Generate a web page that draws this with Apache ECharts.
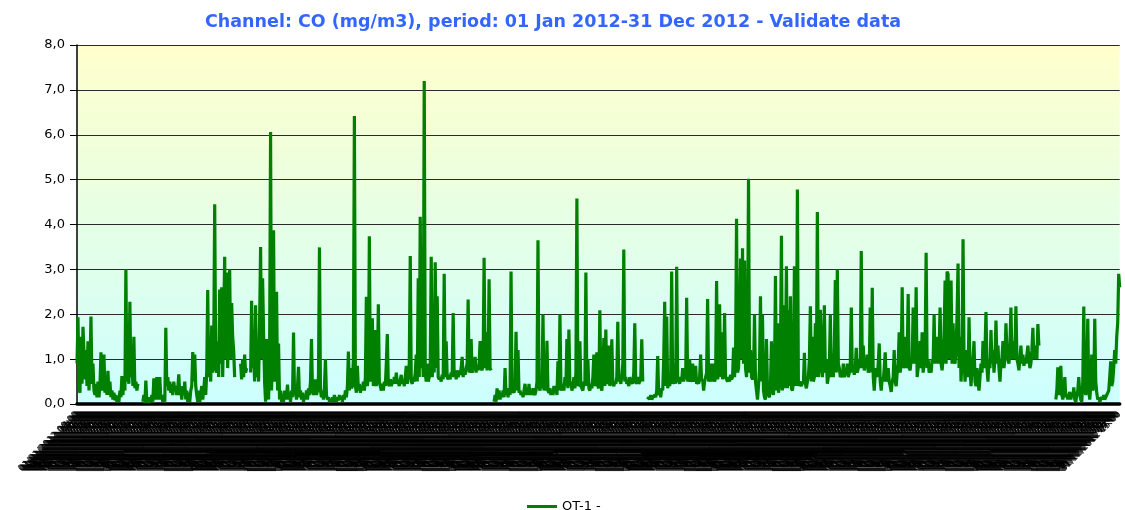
<!DOCTYPE html>
<html>
<head>
<meta charset="utf-8">
<script src="https://cdn.jsdelivr.net/npm/echarts@6/dist/echarts.min.js"></script>
<style>
html,body{margin:0;padding:0;background:#fff;}
#chart{width:1125px;height:510px;}
</style>
</head>
<body>
<div id="chart"></div>
<script>
// Title / legend texts
const titleText = 'Channel: CO (mg/m3), period: 01 Jan 2012-31 Dec 2012 - Validate data';
const seriesName = 'OT-1 -';

// Y axis tick values
const yTicks = [0, 1, 2, 3, 4, 5, 6, 7, 8];

// CO values (mg/m3), samples read evenly across the year; null = no data
const coValues = [
  0.9, 1.93, 0.35,
  0.25, 1.5, 0.45, 1.72, 1.74, 0.55, 1.2, 0.4, 1.4, 0.3,
  0.8, 1.95, 0.45, 0.9, 0.3, 0.2, 0.45, 0.15, 0.5, 0.15,
  0.4, 1.15, 0.3, 0.5, 1.1, 0.25, 0.6, 0.2, 0.74, 0.2,
  0.5, 0.15, 0.3, 0.1, 0.25, 0.08, 0.2, 0.05, 0.15, 0.05,
  0.3, 0.15, 0.62, 0.2, 0.55, 0.3, 3.0, 0.5, 0.8, 0.45,
  2.28, 0.6, 1.0, 0.4, 1.5, 0.35, 0.5, 0.3, 0.45, null,
  null, null, null, 0.05, 0.2, 0.02, 0.52, 0.05, 0.1, 0.02,
  0.15, 0.05, 0.2, 0.05, 0.57, 0.1, 0.25, 0.6, 0.1, 0.3,
  0.6, 0.1, 0.2, 0.05, 0.15, 0.05, 1.7, 0.4, 0.6, 0.3,
  0.5, 0.25, 0.45, 0.2, 0.5, 0.3, 0.4, 0.2, 0.35, 0.66,
  0.2, 0.35, 0.1, 0.4, 0.2, 0.5, 0.1, 0.3, 0.05, 0.25,
  0.05, 0.3, 0.4, 1.16, 0.5, 1.1, 0.4, 0.2, 0.05, 0.3,
  0.05, 0.2, 0.4, 0.1, 0.3, 0.6, 0.2, 0.7, 2.54, 0.6,
  1.0, 0.5, 1.75, 0.7, 1.2, 4.45, 0.8, 0.7, 1.4, 0.6,
  2.55, 0.9, 2.6, 0.6, 1.8, 3.28, 1.0, 2.93, 0.8, 2.1,
  3.0, 1.0, 2.25, 1.5, 1.2, 0.6, null, null, null, null,
  null, 0.9, 0.55, 1.0, 0.6, 1.1, 0.7, 0.8, null, null,
  null, 0.7, 2.3, 0.8, 1.2, 0.5, 2.2, 0.6, 1.0, 0.5,
  1.8, 3.5, 1.0, 2.8, 1.6, 0.5, 0.05, 1.45, 0.3, 0.1,
  1.0, 6.06, 0.3, 1.5, 3.87, 0.5, 1.0, 2.5, 0.3, 1.35,
  0.1, 0.3, 0.05, 0.2, 0.05, 0.3, 0.1, 0.2, 0.43, 0.1,
  0.25, 0.05, 0.3, 0.15, 1.59, 0.2, 0.3, 0.1, 0.4, 0.83,
  0.15, 0.3, 0.1, 0.25, 0.05, 0.2, 0.1, 0.3, 0.1, 0.35,
  0.2, 0.5, 1.45, 0.3, 0.2, 0.3, 0.55, 0.2, 0.3, 0.6,
  3.49, 0.3, 0.15, 0.3, 0.1, 0.4, 1.0, 0.2, 0.1, 0.15,
  0.05, 0.1, 0.05, 0.15, 0.05, 0.2, 0.1, 0.05, 0.15, 0.08,
  0.2, 0.1, 0.15, 0.05, 0.2, 0.1, 0.3, 0.15, 0.4, 1.17,
  0.3, 0.8, 0.35, 0.4, 1.0, 6.42, 0.4, 0.25, 0.85, 0.3,
  0.45, 0.25, 0.4, 0.3, 0.5, 0.3, 0.6, 2.39, 0.4, 0.6,
  3.74, 0.5, 0.9, 1.91, 0.4, 0.6, 1.65, 0.4, 0.7, 2.22,
  0.5, 0.4, 0.3, 0.45, 0.3, 0.5, 0.4, 0.9, 1.56, 0.45,
  0.4, 0.55, 0.4, 0.5, 0.45, 0.6, 0.45, 0.7, 0.45, 0.5,
  0.4, 0.55, 0.65, 0.45, 0.5, 0.4, 0.6, 0.85, 0.45, 0.6,
  0.9, 3.3, 0.5, 0.45, 0.6, 0.5, 0.7, 1.1, 0.5, 2.8,
  0.6, 4.17, 0.8, 1.5, 0.6, 7.2, 0.7, 0.5, 0.9, 0.5,
  0.6, 0.8, 3.28, 0.6, 1.0, 0.7, 3.16, 0.8, 2.4, 0.6,
  0.55, 0.6, 0.5, 0.65, 0.55, 2.9, 0.6, 1.4, 0.6, 0.55,
  0.65, 0.55, 0.7, 0.6, 2.03, 0.6, 0.7, 0.55, 0.75, 0.6,
  0.7, 0.65, 0.8, 1.05, 0.6, 0.75, 0.65, 0.8, 0.9, 2.33,
  0.7, 0.8, 1.45, 0.7, 0.8, 0.75, 1.05, 0.7, 0.85, 0.75,
  0.9, 1.4, 0.8, 0.75, 0.9, 3.26, 0.8, 1.6, 0.75, 0.9,
  2.78, 0.8, 0.75, null, null, 0.05, 0.2, 0.05, 0.35, 0.1,
  0.3, 0.1, 0.2, 0.15, 0.3, 0.15, 0.8, 0.2, 0.35, 0.15,
  0.3, 0.2, 2.95, 0.25, 0.3, 0.25, 0.4, 1.61, 0.3, 1.2,
  0.25, 0.3, 0.2, 0.25, 0.15, 0.3, 0.45, 0.2, 0.3, 0.2,
  0.45, 0.2, 0.3, 0.2, 0.35, 0.25, 0.2, 0.3, 0.5, 3.65,
  0.4, 0.3, 0.5, 0.35, 2.0, 0.3, 0.5, 0.3, 1.41, 0.3,
  0.25, 0.35, 0.2, 0.3, 0.2, 0.4, 0.25, 0.3, 0.2, 0.95,
  0.3, 2.0, 0.4, 0.3, 0.45, 0.3, 0.6, 0.4, 1.45, 0.35,
  1.66, 0.4, 0.5, 0.3, 0.4, 0.6, 0.35, 0.7, 4.58, 0.4,
  0.45, 1.4, 0.4, 0.35, 0.3, 0.5, 0.4, 2.93, 0.4, 1.0,
  0.35, 0.3, 0.45, 0.35, 0.6, 1.1, 0.4, 0.5, 1.15, 0.4,
  0.35, 2.09, 0.4, 0.3, 0.6, 1.47, 0.4, 1.66, 0.45, 0.5,
  1.3, 0.4, 0.6, 1.44, 0.45, 0.4, 0.5, 0.45, 0.6, 1.83,
  0.5, 0.55, 0.45, 0.6, 0.9, 3.44, 0.5, 0.6, 0.45, 0.5,
  0.4, 0.6, 0.45, 0.5, 0.45, 0.7, 1.8, 0.5, 0.45, 0.6,
  0.45, 0.5, 0.6, 1.44, 0.5, null, null, null, null, 0.1,
  0.15, 0.1, 0.2, 0.1, 0.15, 0.12, 0.2, 0.15, 0.3, 1.07,
  0.2, 0.3, 0.15, 0.35, 0.3, 1.0, 2.28, 0.4, 1.95, 0.35,
  0.5, 0.4, 0.6, 2.95, 0.45, 0.5, 0.9, 0.45, 3.06, 0.5,
  0.55, 0.45, 0.6, 0.5, 0.8, 0.5, 0.65, 0.55, 2.37, 0.5,
  0.6, 1.0, 0.5, 0.55, 0.9, 0.5, 0.6, 0.85, 0.45, 0.5,
  0.45, 0.6, 1.1, 0.5, 0.55, 0.3, 0.5, 0.6, 0.7, 2.34,
  0.5, 0.6, 0.9, 0.5, 0.65, 0.9, 0.5, 0.6, 2.74, 0.55,
  0.7, 2.22, 0.6, 1.6, 0.55, 0.7, 2.03, 0.6, 0.55, 0.5,
  0.6, 0.5, 0.65, 0.55, 0.6, 1.26, 0.6, 1.0, 4.13, 0.7,
  0.8, 1.6, 3.24, 1.0, 3.47, 0.9, 3.2, 0.8, 0.6, 1.2,
  5.02, 0.7, 1.2, 0.6, 0.55, 0.65, 2.0, 0.5, 0.3, 0.1,
  0.4, 0.8, 2.4, 0.5, 2.0, 0.3, 0.15, 0.1, 1.45, 0.3,
  0.2, 0.15, 0.4, 1.4, 0.3, 0.2, 0.6, 2.85, 0.3, 1.8,
  0.25, 0.4, 1.2, 3.75, 0.3, 2.2, 0.35, 1.0, 3.07, 0.35,
  2.1, 0.4, 2.4, 0.35, 0.3, 0.5, 3.07, 0.4, 1.0, 4.78,
  0.4, 0.5, 0.45, 0.4, 0.5, 0.45, 1.14, 0.45, 0.35, 0.5,
  0.6, 1.0, 2.18, 0.5, 1.5, 0.5, 0.6, 1.8, 0.6, 4.28,
  0.6, 0.8, 2.1, 1.2, 0.6, 0.9, 2.2, 0.7, 1.0, 0.45,
  0.6, 0.8, 2.0, 0.6, 1.1, 0.6, 1.2, 2.76, 0.7, 3.0,
  0.9, 0.8, 0.6, 0.65, 0.6, 0.9, 0.6, 0.7, 0.65, 0.9,
  0.6, 0.7, 0.9, 2.15, 0.7, 0.8, 0.65, 0.8, 1.25, 0.7,
  0.8, 1.0, 0.8, 3.41, 0.8, 1.3, 0.75, 0.85, 0.8, 1.1,
  0.7, 0.8, 2.15, 0.7, 2.59, 0.6, 0.3, 0.7, 0.8, 0.6,
  0.9, 1.35, 0.5, 0.3, 0.6, 0.5, 0.8, 1.15, 0.5, 0.6,
  0.8, 0.5, 0.4, 0.27, 0.5, 0.6, 1.2, 0.5, 0.4, 0.7,
  0.9, 1.6, 0.7, 0.9, 2.6, 0.8, 0.9, 1.5, 0.8, 1.0,
  2.45, 0.8, 0.75, 1.0, 0.9, 2.15, 0.9, 1.2, 2.6, 0.6,
  0.8, 1.0, 1.4, 0.8, 1.6, 0.7, 0.9, 1.2, 3.37, 0.8,
  1.0, 0.7, 0.8, 0.7, 1.0, 0.9, 2.0, 0.9, 1.1, 1.5,
  0.9, 1.2, 2.15, 0.9, 0.75, 1.0, 1.5, 2.75, 0.9, 2.95,
  2.9, 1.0, 1.2, 2.75, 0.9, 1.8, 1.0, 0.9, 1.2, 2.0,
  3.13, 0.8, 1.5, 0.5, 1.0, 3.67, 1.0, 0.5, 0.8, 1.2,
  0.6, 1.93, 0.8, 0.4, 0.8, 1.0, 1.4, 0.5, 0.4, 0.8,
  0.5, 0.3, 0.6, 0.9, 0.7, 1.4, 0.8, 1.2, 2.05, 0.8,
  0.5, 1.0, 0.8, 1.65, 0.9, 1.2, 0.7, 1.0, 1.86, 0.9,
  1.3, 0.8, 0.5, 0.9, 1.0, 1.4, 0.8, 1.0, 1.8, 1.2,
  1.0, 0.9, 1.3, 2.15, 1.0, 1.4, 1.0, 1.2, 2.18, 1.0,
  0.9, 0.75, 1.0, 1.3, 0.9, 1.1, 0.85, 1.0, 0.9, 1.1,
  1.3, 1.0, 0.8, 0.9, 1.2, 1.7, 1.0, 1.2, 1.3, 1.0,
  1.78, 1.3, null, null, null, null, null, null, null, null,
  null, null, null, null, null, null, null, null, 0.1, 0.3,
  0.82, 0.2, 0.4, 0.85, 0.2, 0.1, 0.3, 0.6, 0.15, 0.2,
  0.1, 0.2, 0.27, 0.1, 0.2, 0.15, 0.37, 0.1, 0.05, 0.2,
  0.3, 0.6, 0.2, 0.1, 0.05, 0.5, 2.17, 0.3, 0.2, 0.5,
  1.9, 0.3, 0.1, 0.4, 1.1, 0.3, 0.4, 1.9, 0.5, 0.25,
  0.1, 0.15, 0.05, 0.07, 0.15, 0.1, 0.2, 0.1, 0.15, 0.2,
  0.2, 0.3, 0.6, 0.95, 0.4, 0.5, 0.8, 1.2, 0.9, 1.5,
  1.8, 2.9, 2.6
];

// Category labels: sample times spread evenly over 2012 (8784 hours)
const yearStartUTC = Date.UTC(2012, 0, 1, 0, 0);
const yearHours = 8784;
function pad(n){ return (n < 10 ? '0' : '') + n; }
const timeLabels = coValues.map(function (v, i) {
  const h = Math.floor(i * yearHours / coValues.length);
  const d = new Date(yearStartUTC + h * 3600000);
  return pad(d.getUTCDate()) + '/' + pad(d.getUTCMonth() + 1) + '/' + d.getUTCFullYear() + ' ' + pad(d.getUTCHours()) + ':00';
});

const chart = echarts.init(document.getElementById('chart'), null, {renderer: 'canvas'});
chart.setOption({
  animation: false,
  backgroundColor: '#ffffff',
  title: {
    text: titleText,
    left: 200,
    top: 8,
    textStyle: {
      fontFamily: 'DejaVu Sans',
      fontSize: 17.5,
      fontWeight: 'bold',
      color: '#3366ff'
    }
  },
  legend: {
    data: [seriesName],
    left: 522,
    top: 495,
    icon: 'rect',
    itemWidth: 30,
    itemHeight: 3,
    itemGap: 4,
    textStyle: {fontFamily: 'DejaVu Sans', fontSize: 13, color: '#000'}
  },
  grid: {
    left: 77,
    right: 3,
    top: 45,
    bottom: 106,
    show: true,
    borderWidth: 0,
    backgroundColor: {
      type: 'linear', x: 0, y: 0, x2: 0, y2: 1,
      colorStops: [
        {offset: 0, color: '#ffffcc'},
        {offset: 1, color: '#ccffff'}
      ]
    }
  },
  xAxis: {
    type: 'category',
    data: timeLabels,
    boundaryGap: false,
    axisLine: {show: true, onZero: false, lineStyle: {color: '#000', width: 3.5}},
    axisTick: {show: false},
    splitLine: {show: false},
    axisLabel: {
      interval: 0,
      rotate: 45,
      fontFamily: 'DejaVu Sans',
      fontSize: 9,
      color: '#000',
      margin: 9,
      hideOverlap: false
    }
  },
  yAxis: {
    type: 'value',
    min: yTicks[0],
    max: yTicks[yTicks.length - 1],
    interval: 1,
    axisLine: {show: true, lineStyle: {color: '#000', width: 1.5}},
    axisTick: {show: true, inside: false, length: 7, lineStyle: {color: '#000', width: 1}},
    splitLine: {show: true, lineStyle: {color: '#2a2a2a', width: 1.2}},
    axisLabel: {
      fontFamily: 'DejaVu Sans',
      fontSize: 13,
      color: '#000',
      margin: 12,
      formatter: function (v) { return v.toFixed(1).replace('.', ','); }
    }
  },
  series: [{
    name: seriesName,
    type: 'line',
    data: coValues,
    symbol: 'none',
    showSymbol: false,
    connectNulls: false,
    lineStyle: {color: '#008000', width: 3.2},
    itemStyle: {color: '#008000'},
    z: 3
  }]
});
</script>
</body>
</html>
